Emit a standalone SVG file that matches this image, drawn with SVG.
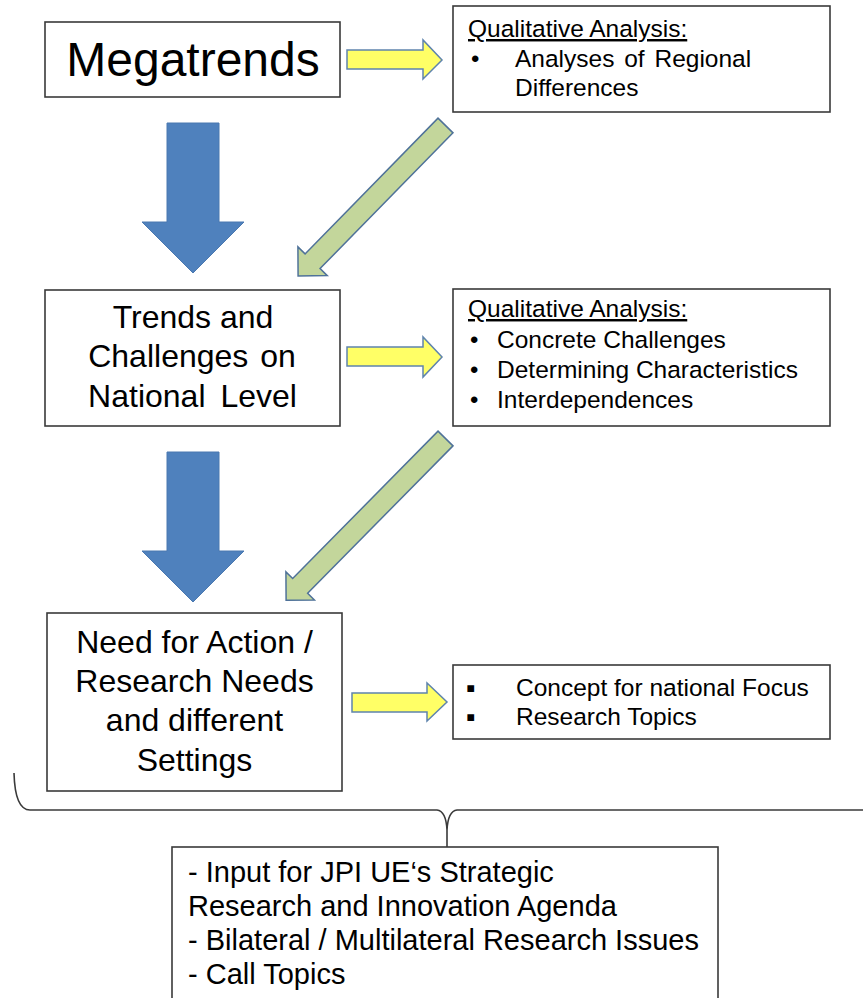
<svg xmlns="http://www.w3.org/2000/svg" width="863" height="998" viewBox="0 0 863 998">
<style>
.box{fill:#fff;stroke:#3a3a3a;stroke-width:1.6}
.t{font-family:"Liberation Sans",Arial,sans-serif;fill:#000}
.c{text-anchor:middle}
.blue{fill:#4f81bd;stroke:#4a78b0;stroke-width:1}
.yel{fill:#ffff66;stroke:#5f84ad;stroke-width:1.5}
.grn{fill:#c3d69b;stroke:#4f7299;stroke-width:1.5}
.brace{fill:none;stroke:#3a3a3a;stroke-width:1.6}
</style>
<rect width="863" height="998" fill="#fff"/>
<g id="connectors">
<polygon class="blue" points="167,123 219,123 219,222 244,222 193,273 142,222 167,222"/>
<polygon class="blue" points="167,452 219,452 219,551 244,551 193,602 142,551 167,551"/>
<polygon class="yel" points="347,50 423,50 423,40 442,60 423,79 423,69 347,69"/>
<polygon class="yel" points="347,347 423,347 423,337 442,357 423,377 423,366 347,366"/>
<polygon class="yel" points="352,693 427,693 427,683 447,702 427,721 427,712 352,712"/>
<polygon class="grn" transform="translate(445.5,125.5) rotate(134.4)" points="0,-10.5 190,-10.5 190,-20.5 210.7,0 190,20.5 190,10.5 0,10.5"/>
<polygon class="grn" transform="translate(445.5,438.5) rotate(134.6)" points="0,-10.5 207,-10.5 207,-20 227,0 207,20 207,10.5 0,10.5"/>
<path class="brace" d="M14,773 Q15,810 30,810 L437,810 Q446,811 447,830 L447,847 M447,830 Q448,811 457,810 L863,810"/>
</g>
<g id="megatrends">
<rect class="box" x="45" y="22" width="295" height="75"/>
<text class="t c" x="193" y="76" font-size="48">Megatrends</text>
</g>
<g id="qa1">
<rect class="box" x="453" y="6" width="377" height="106"/>
<text class="t" x="468" y="37" font-size="24.5" text-decoration="underline">Qualitative Analysis:</text>
<text class="t" x="471" y="67" font-size="24">•</text>
<text class="t" x="515" y="67" font-size="24.5" word-spacing="3">Analyses of Regional</text>
<text class="t" x="515" y="96" font-size="24.5">Differences</text>
</g>
<g id="trends">
<rect class="box" x="45" y="290" width="295" height="136"/>
<text class="t c" x="193" y="328" font-size="32">Trends and</text>
<text class="t c" x="192" y="367" font-size="32" word-spacing="3">Challenges on</text>
<text class="t c" x="192.5" y="407" font-size="32" word-spacing="6">National Level</text>
</g>
<g id="qa2">
<rect class="box" x="453" y="289" width="377" height="137"/>
<text class="t" x="468" y="317" font-size="24.5" text-decoration="underline">Qualitative Analysis:</text>
<text class="t" x="470" y="348" font-size="24">•</text>
<text class="t" x="497" y="348" font-size="24.5">Concrete Challenges</text>
<text class="t" x="470" y="378" font-size="24">•</text>
<text class="t" x="497" y="378" font-size="24.5">Determining Characteristics</text>
<text class="t" x="470" y="408" font-size="24">•</text>
<text class="t" x="497" y="408" font-size="24.5">Interdependences</text>
</g>
<g id="need">
<rect class="box" x="47" y="613" width="295" height="178"/>
<text class="t c" x="194.5" y="653" font-size="32">Need for Action /</text>
<text class="t c" x="194.5" y="692" font-size="32">Research Needs</text>
<text class="t c" x="194.5" y="731" font-size="32">and different</text>
<text class="t c" x="194.5" y="771" font-size="32">Settings</text>
</g>
<g id="focus">
<rect class="box" x="453" y="665" width="377" height="74"/>
<text class="t" x="466" y="697" font-size="27">▪</text>
<text class="t" x="516" y="696" font-size="24.5">Concept for national Focus</text>
<text class="t" x="466" y="726" font-size="27">▪</text>
<text class="t" x="516" y="725" font-size="24.5">Research Topics</text>
</g>
<g id="output">
<rect class="box" x="172" y="847" width="546" height="170"/>
<text class="t" x="188" y="882" font-size="29">- Input for JPI UE‘s Strategic</text>
<text class="t" x="188" y="916" font-size="29">Research and Innovation Agenda</text>
<text class="t" x="188" y="950" font-size="29">- Bilateral / Multilateral Research Issues</text>
<text class="t" x="188" y="984" font-size="29">- Call Topics</text>
</g>
</svg>
